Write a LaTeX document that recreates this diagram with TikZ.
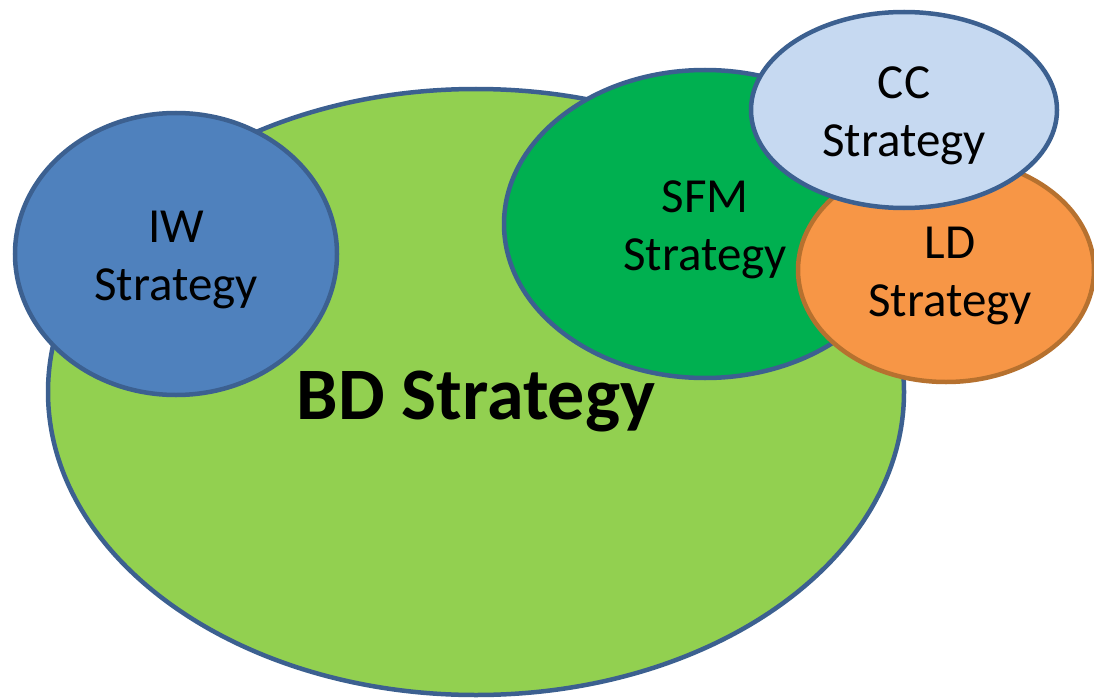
\documentclass[tikz,border=0pt]{standalone}
\usepackage{fontspec}
\setmainfont{Carlito}
\usetikzlibrary{shapes.geometric}

\definecolor{bdgreen}{HTML}{92D050}
\definecolor{sfmgreen}{HTML}{00B050}
\definecolor{iwblue}{HTML}{4F81BD}
\definecolor{ccblue}{HTML}{C6D9F1}
\definecolor{ldorange}{HTML}{F79646}
\definecolor{edgeblue}{HTML}{3C6090}
\definecolor{edgebrown}{HTML}{B6712F}

\begin{document}
\begin{tikzpicture}[
    x=1pt, y=-1pt,
    % Estilos de los ovalos
    strat/.style={ellipse, draw=edgeblue, line width=4.5pt, inner sep=0pt},
    strat_text/.style={align=center, yshift=-6pt, font=\fontsize{49}{58}\selectfont},
    big_strat/.style={strat, fill=bdgreen},
    iw_strat/.style={strat, fill=iwblue},
    sfm_strat/.style={strat, fill=sfmgreen},
    ld_strat/.style={strat, fill=ldorange, draw=edgebrown},
    cc_strat/.style={strat, fill=ccblue}
]
\useasboundingbox (0,0) rectangle (1094,698);

% --- ESTRATEGIA GLOBAL ---
\node[big_strat, minimum width=856pt, minimum height=606pt] (bd) at (476,392) {};
\node[font=\fontsize{74}{88}\selectfont\bfseries] (bd_text) at (476,402) {BD Strategy};

% --- IW ---
\node[iw_strat, minimum width=322pt, minimum height=282pt,
      label={[strat_text]center:IW\\Strategy}] (iw) at (176,254) {};

% --- SFM ---
\node[sfm_strat, minimum width=402pt, minimum height=308pt,
      label={[strat_text]center:SFM\\Strategy}] (sfm) at (705,224) {};

% --- LD ---
\node[ld_strat, minimum width=296pt, minimum height=224pt,
      label={[strat_text, xshift=4pt]center:LD\\Strategy}] (ld) at (946,270) {};

% --- CC ---
\node[cc_strat, minimum width=306pt, minimum height=196pt,
      label={[strat_text]center:CC\\Strategy}] (cc) at (904,110) {};

\end{tikzpicture}
\end{document}
